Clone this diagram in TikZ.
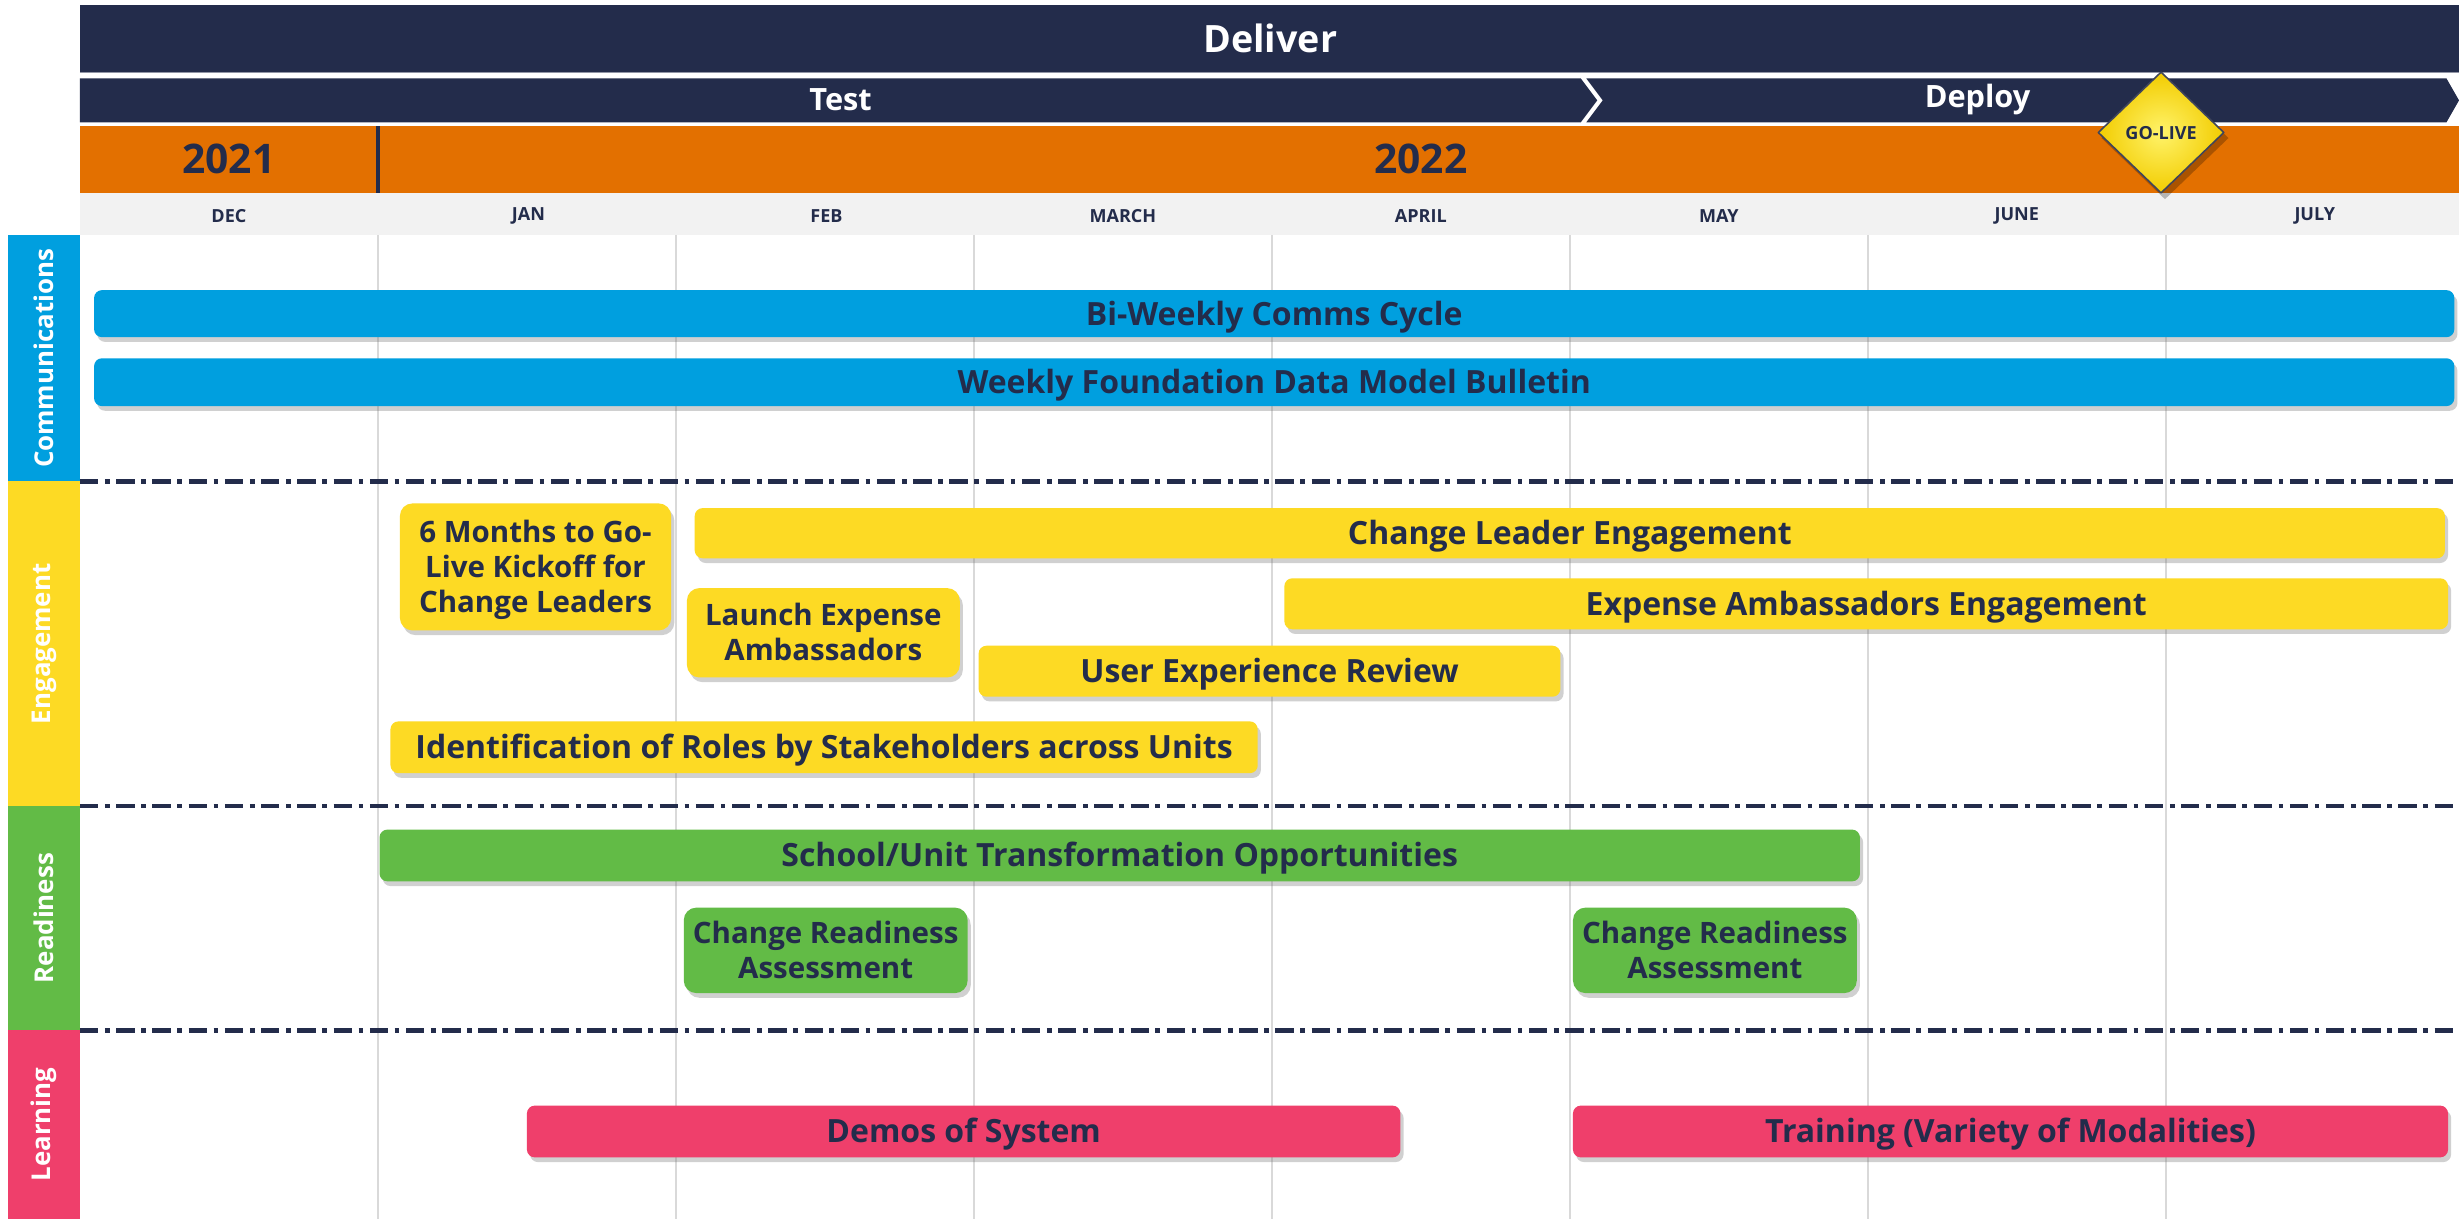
\documentclass[tikz,border=0pt]{standalone}
\usepackage{fontspec}
\setmainfont{Open Sans}
\usetikzlibrary{shadows}
\definecolor{navy}{HTML}{232C4B}
\definecolor{orng}{HTML}{E37000}
\definecolor{cblue}{HTML}{009FDF}
\definecolor{cyell}{HTML}{FDDA24}
\definecolor{cgreen}{HTML}{62BB46}
\definecolor{cpink}{HTML}{EF3F6B}
\definecolor{rowgray}{HTML}{F2F2F2}
\definecolor{gridgray}{HTML}{D9D9D9}
\definecolor{golight}{HTML}{FFF36A}
\definecolor{godark}{HTML}{F2CC00}
\newcommand\fsz[2]{\fontsize{#1}{#2}\selectfont\bfseries}
\newcommand\mlines[1]{\raisebox{-2.2pt}[\height][\depth]{\begin{tabular}{@{}c@{}}#1\end{tabular}}}
\tikzset{
  bar/.style={rounded corners=5pt, inner sep=0pt, text=navy, align=center,
    font=\fsz{20.4}{24}, text height=14.5pt, text depth=0pt,
    drop shadow={shadow xshift=2pt, shadow yshift=-3pt, opacity=0.3, fill=black!60}},
  box/.style={rounded corners=8pt, inner sep=0pt, text=navy,
    font=\fsz{18.8}{22.5},
    drop shadow={shadow xshift=2pt, shadow yshift=-3pt, opacity=0.3, fill=black!60}},
  month/.style={text=navy, font=\fsz{11.5}{13}},
  lane/.style={text=white, font=\fsz{16.5}{18}, rotate=90},
  sep/.style={navy, line width=3pt, dash pattern=on 11.7pt off 4.2pt on 3pt off 4.2pt},
  gridline/.style={gridgray, line width=1.4pt},
}
\begin{document}
\begin{tikzpicture}[x=1pt, y=-1pt]
\useasboundingbox (0,0) rectangle (1568,777);
\fill[white] (0,0) rectangle (1568,777);

% header
\fill[navy] (51,3) rectangle (1568,46);
\draw[navy!50!white, line width=0.6pt] (51,46) -- (1568,46);
\node[text=white, font=\fsz{24}{28}] (deliver) at (810,24.5) {Deliver};
\fill[navy] (51,50) -- (1008,50) -- (1018.5,64) -- (1008,78) -- (51,78) -- cycle;
\fill[navy] (1011.5,50) -- (1560,50) -- (1568,64) -- (1560,78) -- (1011.5,78) -- (1022,64) -- cycle;
\node[text=white, font=\fsz{19.6}{22}] (test) at (536,63.5) {Test};
\node[text=white, font=\fsz{19.6}{22}] (deploy) at (1261,63.5) {Deploy};
\fill[orng] (51,80.4) rectangle (1568,123);
\draw[navy, line width=2.4pt] (241,80.4) -- (241,123);
\node[text=navy, font=\fsz{26}{30}] (y2021) at (146,101.5) {2021};
\node[text=navy, font=\fsz{26}{30}] (y2022) at (906,101.5) {2022};
\fill[rowgray] (51,123) rectangle (1568,150);
\node[month] (mdec) at (146,138) {DEC};
\node[month] (mjan) at (337,138) {JAN};
\node[month] (mfeb) at (527,138) {FEB};
\node[month] (mmar) at (716,138) {MARCH};
\node[month] (mapr) at (906,138) {APRIL};
\node[month] (mmay) at (1096,138) {MAY};
\node[month] (mjun) at (1286,138) {JUNE};
\node[month] (mjul) at (1476,138) {JULY};

% go-live diamond
\fill[black, opacity=0.25] (1380.5,49) -- (1421,88) -- (1380.5,127) -- (1340,88) -- cycle;
\shade[inner color=golight, outer color=godark] (1378,46) -- (1418,84.5) -- (1378,123) -- (1338,84.5) -- cycle;
\draw[navy!70!gray, line width=1pt, line join=round] (1378,46) -- (1418,84.5) -- (1378,123) -- (1338,84.5) -- cycle;
\node[text=navy, font=\fsz{11.5}{13}] (golive) at (1378,85) {GO-LIVE};

% grid lines
\foreach \gx in {241,431,621,811,1001,1191,1381}
  \draw[gridline] (\gx,150) -- (\gx,777);

% lanes
\fill[cblue] (5,150) rectangle (51,307);
\fill[cyell] (5,307) rectangle (51,514);
\fill[cgreen] (5,514) rectangle (51,657);
\fill[cpink] (5,657) rectangle (51,777);
\node[lane] (lcomm) at (28,228.5) {Communications};
\node[lane] (leng) at (28,410.5) {Engagement};
\node[lane] (lread) at (28,585.5) {Readiness};
\node[lane] (llearn) at (28,717) {Learning};

% separators
\draw[sep] (51,307) -- (1568,307);
\draw[sep] (51,514) -- (1568,514);
\draw[sep] (51,657) -- (1568,657);

% communications
\node[bar, fill=cblue, minimum width=1505pt, minimum height=30pt] (biweekly) at (812.5,200) {Bi-Weekly Comms Cycle};
\node[bar, fill=cblue, minimum width=1505pt, minimum height=30.5pt] (weekly) at (812.5,243.7) {Weekly Foundation Data Model Bulletin};

% engagement
\node[box, fill=cyell, minimum width=173pt, minimum height=81pt] (sixm) at (341.5,361.5) {\mlines{6 Months to Go-\\Live Kickoff for\\Change Leaders}};
\node[bar, fill=cyell, minimum width=1116pt, minimum height=32pt] (cle) at (1001,340) {Change Leader Engagement};
\node[box, fill=cyell, minimum width=174pt, minimum height=57pt] (launch) at (525,403.5) {\mlines{Launch Expense\\Ambassadors}};
\node[bar, fill=cyell, minimum width=742pt, minimum height=32.5pt] (eae) at (1190,385) {Expense Ambassadors Engagement};
\node[bar, fill=cyell, minimum width=371pt, minimum height=32.5pt] (uxr) at (809.5,428) {User Experience Review};
\node[bar, fill=cyell, minimum width=553pt, minimum height=33pt] (ident) at (525.5,476.5) {Identification of Roles by Stakeholders across Units};

% readiness
\node[bar, fill=cgreen, minimum width=944pt, minimum height=33pt] (school) at (714,545.5) {School/Unit Transformation Opportunities};
\node[box, fill=cgreen, minimum width=181pt, minimum height=54.5pt] (cra1) at (526.5,606) {\mlines{Change Readiness\\Assessment}};
\node[box, fill=cgreen, minimum width=181pt, minimum height=54.5pt] (cra2) at (1093.5,606) {\mlines{Change Readiness\\Assessment}};

% learning
\node[bar, fill=cpink, minimum width=557pt, minimum height=33pt] (demos) at (614.5,721.5) {Demos of System};
\node[bar, fill=cpink, minimum width=558pt, minimum height=33pt] (training) at (1282,721.5) {Training (Variety of Modalities)};
\end{tikzpicture}
\end{document}
